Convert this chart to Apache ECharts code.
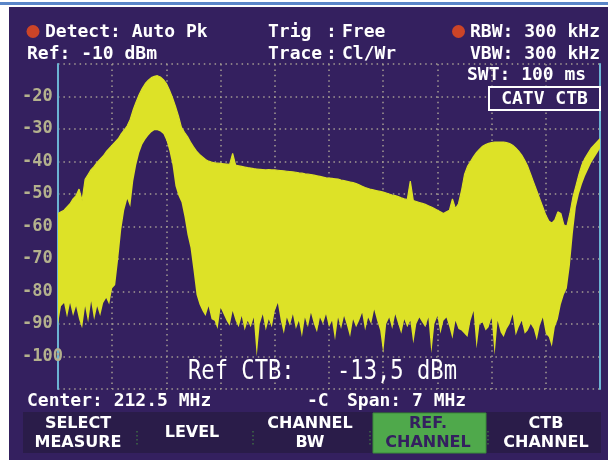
<!DOCTYPE html>
<html>
<head>
<meta charset="utf-8">
<script src="https://cdn.jsdelivr.net/npm/echarts@6/dist/echarts.min.js"></script>
<style>
html, body { margin: 0; padding: 0; background: #fff; }
#chart { width: 608px; height: 462px; }
</style>
</head>
<body>
<div id="chart"></div>
<script>
'use strict';

// analyzer settings
var centerMHz = 212.5;
var spanMHz = 7;
var refLevel = -10;
var bottomLevel = -110;

// upper edge of the trace, dBm (181 sweep points)
var topDbm = [
    -56, -55.5, -55, -54, -53, -51.5, -50.5, -48.5, -52, -45.5,
    -44, -42.5, -41.5, -40.3, -39.3, -38.3, -37, -36, -35, -34,
    -33, -31.5, -30.3, -29, -27, -24, -21.5, -19.3, -17.5, -16,
    -15, -14.2, -13.8, -13.6, -14, -14.8, -16, -18, -20.3, -23,
    -26, -29.5, -31, -32.3, -34, -35.5, -36.8, -37.8, -38.6, -39.4,
    -39.9, -40.2, -40.4, -40.5, -40.6, -40.7, -40.8, -40.9, -37.5, -41.1,
    -41.3, -41.5, -41.7, -41.9, -42, -42.2, -42.3, -42.4, -42.5, -42.6,
    -42.5, -42.6, -42.6, -42.7, -42.8, -42.9, -43, -43.1, -43.2, -43.3,
    -43.5, -43.6, -43.8, -43.9, -44, -44.2, -44.4, -44.6, -44.8, -45,
    -45.1, -45.2, -45.3, -45.4, -45.7, -45.9, -46.1, -46.3, -46.5, -46.8,
    -47.2, -47.6, -48, -48.3, -48.6, -48.8, -49, -49.2, -49.4, -49.7,
    -50, -50.3, -50.5, -50.8, -51.2, -51.5, -51.7, -46, -52, -52.3,
    -52.6, -52.9, -53.2, -53.6, -54, -54.5, -55, -55.5, -56, -55.5,
    -55, -51.5, -54.5, -53, -49, -44, -41.5, -40, -38.5, -37.2,
    -36.2, -35.3, -34.8, -34.4, -34.2, -34, -34, -34, -34, -34.2,
    -34.5, -35, -35.8, -36.8, -38, -39.6, -41.5, -44, -46.5, -49,
    -51.5, -54, -56.5, -58.3, -59, -58, -55.5, -56, -59.5, -60,
    -56, -51, -47.5, -44, -41, -39, -37.5, -36, -35, -34, -33
];

// lower edge of the trace (noise floor / inner carrier), dBm
var floorDbm = [
    -90, -84.5, -83.5, -88, -83.5, -87.5, -84.5, -88.5, -91.3, -84.5,
    -89.5, -83, -88.8, -84.5, -87.5, -83.5, -82, -84, -79, -78,
    -70, -61, -55, -51.5, -54, -46, -41, -37.3, -34.8, -33.2,
    -32, -31, -30.4, -30.4, -30.8, -31.5, -33.5, -36.8, -41, -47.5,
    -50.5, -52.5, -57, -62.5, -66.5, -73.5, -81, -84, -86, -87.5,
    -84.5, -88.5, -89, -91.5, -85, -87, -89, -90.5, -86, -89,
    -91, -87.5, -92, -89, -91, -88, -100, -90, -87, -92,
    -88.5, -91, -86, -83.5, -89, -93, -88, -90.5, -87, -91.5,
    -89, -94, -88, -91, -86.5, -90, -92.5, -88, -90, -87,
    -91, -89, -95, -88, -91.5, -87.5, -90.5, -94, -88.5, -91,
    -89, -86.5, -92, -88, -90, -85.5, -89, -92, -99, -90,
    -88, -91.5, -87, -90, -93, -88.5, -91, -89, -96, -90,
    -88, -89.5, -91, -88, -99, -90, -87.5, -93, -89, -88,
    -91, -94.5, -89, -91.5, -92, -93, -94, -89, -86, -97.5,
    -90, -89.5, -92, -91, -88, -99.5, -89, -92.5, -94, -91.5,
    -90, -87, -93.5, -91, -89, -93, -92, -90, -91.5, -95,
    -90.5, -88, -93, -94, -97, -91, -88.5, -84, -81, -79,
    -72, -62, -54, -50, -47, -44.5, -42.5, -40.5, -39, -37.5, -36
];

var softkeys = ['SELECT\nMEASURE', 'LEVEL', 'CHANNEL\nBW', 'REF.\nCHANNEL', 'CTB\nCHANNEL'];
var activeKey = 3;

var purple = '#34205f';
var yellow = '#dde227';
var gridDots = { color: '#a39a93', width: 1.5, type: [1.5, 3.9] };
var monoBold = 'bold 18px "DejaVu Sans Mono"';

var freqs = [];
var band = [];
for (var i = 0; i < topDbm.length; i++) {
    freqs.push((centerMHz - spanMHz / 2 + i * spanMHz / (topDbm.length - 1)).toFixed(3));
    band.push(+(topDbm[i] - floorDbm[i]).toFixed(2));
}

function txt(x, y, s, font, align, color) {
    return {
        type: 'text', x: x, y: y, z: 20,
        style: { text: s, font: font || monoBold, fill: color || '#fff', align: align || 'left', verticalAlign: 'middle' }
    };
}

var graphics = [
    { type: 'rect', z: 30, shape: { x: 0, y: 0, width: 9, height: 462 }, style: { fill: '#fff' } },
    { type: 'rect', z: 30, shape: { x: 0, y: 0, width: 608, height: 7 }, style: { fill: '#fff' } },
    { type: 'rect', z: 31, shape: { x: 0, y: 2, width: 608, height: 3 }, style: { fill: '#5a86c8' } },
    { type: 'rect', z: 30, shape: { x: 0, y: 460, width: 608, height: 2 }, style: { fill: '#fff' } },
    { type: 'circle', z: 20, shape: { cx: 33, cy: 31.5, r: 6.5 }, style: { fill: '#cc4427' } },
    { type: 'circle', z: 20, shape: { cx: 458.5, cy: 31.5, r: 6.5 }, style: { fill: '#cc4427' } },
    txt(45, 32, 'Detect: Auto Pk'),
    txt(27, 54, 'Ref: -10 dBm'),
    txt(268, 32, 'Trig'),
    txt(326, 32, ':'),
    txt(342, 32, 'Free'),
    txt(268, 54, 'Trace'),
    txt(326, 54, ':'),
    txt(342, 54, 'Cl/Wr'),
    txt(600, 32, 'RBW: 300 kHz', null, 'right'),
    txt(600, 54, 'VBW: 300 kHz', null, 'right'),
    txt(467, 75, 'SWT: 100 ms'),
    { type: 'rect', z: 15, shape: { x: 489, y: 87, width: 111, height: 23 }, style: { fill: purple, stroke: '#fff', lineWidth: 2 } },
    txt(544.5, 99, 'CATV CTB', null, 'center'),
    { type: 'text', x: 188, y: 372, z: 20, scaleX: 0.82,
      style: { text: 'Ref CTB:', font: '27px "DejaVu Sans Mono"', fill: '#fff', verticalAlign: 'middle' } },
    { type: 'text', x: 337, y: 372, z: 20, scaleX: 0.82,
      style: { text: '-13,5 dBm', font: '27px "DejaVu Sans Mono"', fill: '#fff', verticalAlign: 'middle' } },
    txt(27, 401, 'Center: 212.5 MHz'),
    txt(307, 401, '-C'),
    txt(347, 401, 'Span: 7 MHz'),
    { type: 'rect', z: 10, shape: { x: 23, y: 412, width: 578, height: 41 }, style: { fill: '#2a1c49' } },
    { type: 'rect', z: 11, shape: { x: 373, y: 413, width: 113, height: 40 }, style: { fill: '#4fa94b', stroke: '#3b8a3b', lineWidth: 1 } }
];

var keyCenters = [78, 192, 310, 428, 546];
softkeys.forEach(function (label, k) {
    graphics.push(txt(keyCenters[k], 433, label, 'bold 16px "DejaVu Sans"', 'center', k === activeKey ? purple : '#fff'));
    graphics[graphics.length - 1].style.lineHeight = 19;
});
[137, 253, 370, 488].forEach(function (x) {
    graphics.push({ type: 'line', z: 12, shape: { x1: x, y1: 431, x2: x, y2: 446 },
        style: { stroke: '#3f6a45', lineWidth: 1.5, lineDash: [1.5, 2.5] } });
});

var option = {
    backgroundColor: purple,
    animation: false,
    grid: { left: 58, right: 8, top: 64, bottom: 73 },
    xAxis: {
        type: 'category',
        data: freqs,
        boundaryGap: false,
        axisLine: { show: false },
        axisTick: { show: false },
        axisLabel: { show: false },
        splitLine: { show: true, interval: 17, lineStyle: gridDots }
    },
    yAxis: [{
        type: 'value',
        min: bottomLevel,
        max: refLevel,
        interval: 10,
        axisLine: { show: true, lineStyle: { color: '#6cb3d3', width: 2 } },
        axisTick: { show: false },
        axisLabel: {
            align: 'left',
            margin: 36,
            color: '#b4b18d',
            fontFamily: 'DejaVu Sans Mono',
            fontWeight: 'bold',
            fontSize: 17,
            formatter: function (v) {
                return (v === refLevel || v === bottomLevel) ? '' : String(v);
            }
        },
        splitLine: { show: true, lineStyle: gridDots }
    }, {
        type: 'value',
        position: 'right',
        min: bottomLevel,
        max: refLevel,
        interval: 10,
        axisLine: { show: true, lineStyle: { color: '#6cb3d3', width: 2 } },
        axisTick: { show: false },
        axisLabel: { show: false },
        splitLine: { show: false }
    }],
    series: [{
        name: 'floor',
        type: 'line',
        stack: 'trace',
        stackStrategy: 'all',
        symbol: 'none',
        silent: true,
        lineStyle: { opacity: 0 },
        data: floorDbm
    }, {
        name: 'trace',
        type: 'line',
        stack: 'trace',
        stackStrategy: 'all',
        symbol: 'none',
        silent: true,
        lineStyle: { color: yellow, width: 1.2 },
        areaStyle: { color: yellow, opacity: 1 },
        data: band
    }],
    graphic: graphics
};

var myChart = echarts.init(document.getElementById('chart'));
myChart.setOption(option);
</script>
</body>
</html>
